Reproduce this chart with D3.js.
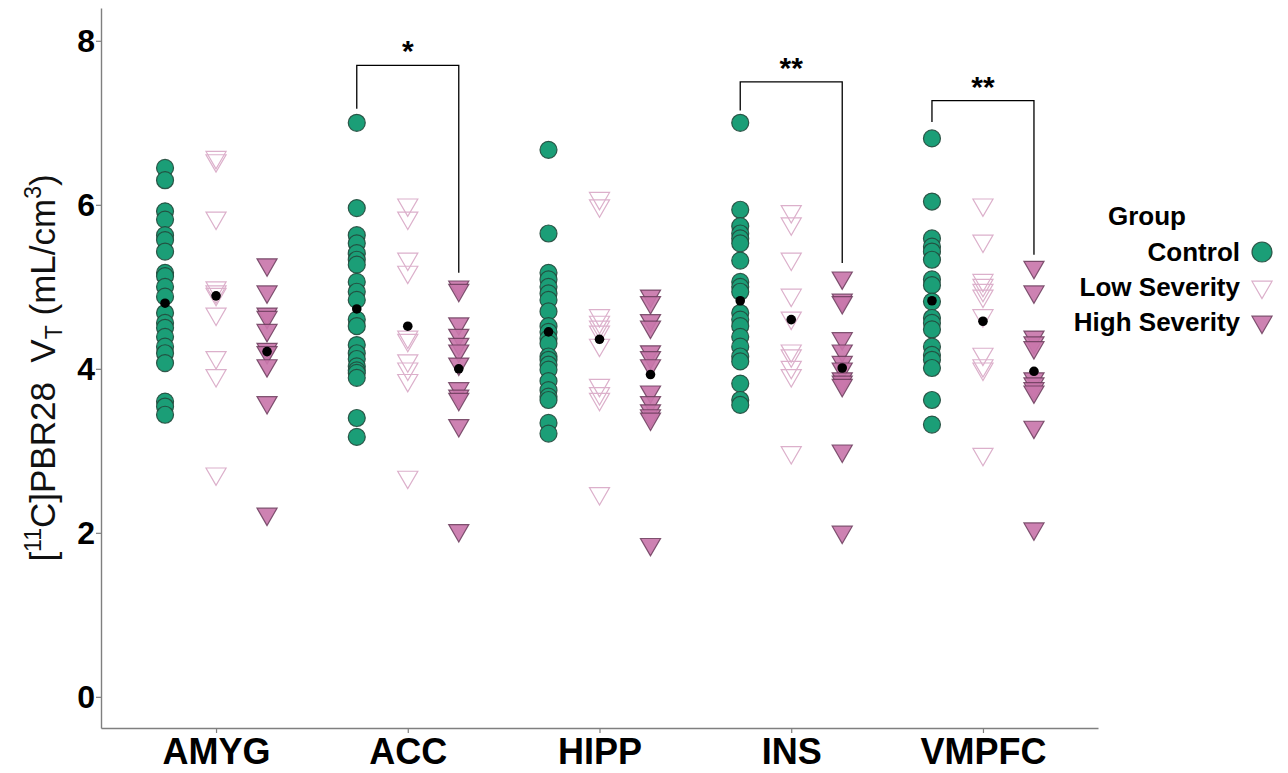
<!DOCTYPE html>
<html>
<head>
<meta charset="utf-8">
<script src="https://cdn.jsdelivr.net/npm/d3@7"></script>
<style>
  html, body { margin: 0; padding: 0; background: #fff; }
  svg { display: block; font-family: "Liberation Sans", Arial, sans-serif; }
</style>
</head>
<body>
<svg id="chart" width="1288" height="773"></svg>
<script>
// ---------- data ----------
const regions = ["AMYG", "ACC", "HIPP", "INS", "VMPFC"];
const groups = ["Control", "Low Severity", "High Severity"];
const yTicks = [0, 2, 4, 6, 8];

const controlValues = [
  [6.45, 6.30, 5.92, 5.82, 5.63, 5.57, 5.43, 5.17, 5.13, 5.00, 4.88, 4.68, 4.56, 4.50, 4.39, 4.27, 4.19, 4.07, 3.60, 3.54, 3.44],
  [7.00, 5.96, 5.63, 5.53, 5.41, 5.33, 5.27, 5.06, 4.94, 4.84, 4.60, 4.52, 4.29, 4.19, 4.12, 4.03, 3.98, 3.95, 3.89, 3.40, 3.17],
  [6.67, 5.65, 5.17, 5.09, 5.00, 4.92, 4.84, 4.70, 4.52, 4.45, 4.37, 4.31, 4.15, 4.11, 4.05, 3.99, 3.85, 3.74, 3.66, 3.62, 3.34, 3.21],
  [7.00, 5.94, 5.74, 5.65, 5.59, 5.53, 5.32, 5.06, 5.00, 4.94, 4.68, 4.60, 4.52, 4.39, 4.27, 4.15, 4.09, 3.82, 3.62, 3.56],
  [6.81, 6.04, 5.59, 5.49, 5.43, 5.33, 5.09, 5.02, 4.82, 4.62, 4.56, 4.48, 4.27, 4.17, 4.11, 4.01, 3.62, 3.32]
];
const lowValues = [
  [6.58, 6.54, 5.84, 4.99, 4.94, 4.91, 4.67, 4.14, 3.92, 2.72],
  [6.00, 5.84, 5.34, 5.18, 4.39, 4.35, 4.10, 4.00, 3.86, 2.68],
  [6.08, 5.99, 4.65, 4.57, 4.51, 4.45, 4.29, 3.80, 3.70, 3.63, 2.48],
  [5.92, 5.77, 5.34, 4.90, 4.62, 4.22, 4.16, 4.02, 3.92, 2.98],
  [6.00, 5.56, 5.08, 5.02, 4.96, 4.89, 4.65, 4.18, 4.04, 4.00, 2.96]
];
const highValues = [
  [5.27, 4.94, 4.67, 4.63, 4.47, 4.24, 4.20, 4.04, 3.59, 2.23],
  [5.00, 4.96, 4.55, 4.41, 4.30, 4.22, 4.06, 3.76, 3.67, 3.63, 3.31, 2.03],
  [4.89, 4.81, 4.59, 4.51, 4.21, 4.14, 4.04, 3.72, 3.59, 3.49, 3.43, 3.39, 1.86],
  [5.11, 4.84, 4.81, 4.37, 4.22, 4.08, 4.00, 3.88, 3.84, 3.80, 3.00, 2.01],
  [5.24, 4.94, 4.39, 4.32, 4.26, 3.88, 3.82, 3.76, 3.72, 3.29, 2.05]
];
const controlMeans = [4.80, 4.73, 4.45, 4.83, 4.83];
const lowMeans = [4.89, 4.52, 4.36, 4.60, 4.58];
const highMeans = [4.21, 4.00, 3.93, 4.01, 3.97];

const sigRegions = ["ACC", "INS", "VMPFC"];
const sigLabels = ["*", "**", "**"];
const sigTop = [7.70, 7.50, 7.27];
const sigLeftEnd = [7.17, 7.15, 7.01];
const sigRightEnd = [5.17, 5.29, 5.39];

// ---------- layout ----------
const svg = d3.select("#chart");
const plot = { left: 101, right: 1098, top: 8, bottom: 728 };

const x = d3.scalePoint().domain(regions).range([plot.left, plot.right]).padding(0.6);
const dodge = d3.scalePoint().domain(groups).range([-51, 51]);
const y = d3.scaleLinear().domain([-0.38, 8.4]).range([plot.bottom, plot.top]);

const style = {
  "Control": { fill: "#1b9e77", stroke: "#24493c", fillOpacity: 1, strokeOpacity: 0.9 },
  "Low Severity": { fill: "none", stroke: "#dcb0cb", fillOpacity: 0, strokeOpacity: 1 },
  "High Severity": { fill: "#c977ab", stroke: "#6b3c5c", fillOpacity: 0.92, strokeOpacity: 0.85 }
};
const circleSym = d3.symbol().type(d3.symbolCircle).size(Math.PI * 8.5 * 8.5);
const triSym = d3.symbol().type(d3.symbolTriangle).size(175);

function drawGroup(values, group) {
  const flat = [];
  values.forEach((arr, i) => arr.forEach(v => flat.push({ region: regions[i], v })));
  const st = style[group];
  svg.append("g").selectAll("path").data(flat).join("path")
    .attr("d", group === "Control" ? circleSym() : triSym())
    .attr("transform", d => `translate(${x(d.region) + dodge(group)},${y(d.v)})` + (group === "Control" ? "" : " rotate(180)"))
    .attr("fill", st.fill)
    .attr("fill-opacity", st.fillOpacity)
    .attr("stroke", st.stroke)
    .attr("stroke-opacity", st.strokeOpacity)
    .attr("stroke-width", 1.2);
}
drawGroup(controlValues, "Control");
drawGroup(lowValues, "Low Severity");
drawGroup(highValues, "High Severity");

// means
const meanSets = [controlMeans, lowMeans, highMeans];
const meanData = [];
meanSets.forEach((m, gi) => m.forEach((v, ri) => meanData.push({ region: regions[ri], group: groups[gi], v })));
svg.append("g").selectAll("circle").data(meanData).join("circle")
  .attr("cx", d => x(d.region) + dodge(d.group))
  .attr("cy", d => y(d.v))
  .attr("r", 4.8)
  .attr("fill", "#000");

// axes
const yAxis = d3.axisLeft(y).tickValues(yTicks).tickSize(5).tickPadding(3).tickSizeOuter(0);
const yg = svg.append("g").attr("transform", `translate(${plot.left},0)`).call(yAxis);
yg.select(".domain").attr("stroke", "#7f7f7f").attr("stroke-width", 1.4);
yg.selectAll(".tick line").attr("stroke", "#7f7f7f").attr("stroke-width", 1.2);
yg.selectAll(".tick text").attr("font-family", "Liberation Sans, Arial, sans-serif")
  .attr("font-size", 32).attr("font-weight", "bold").attr("fill", "#000").attr("x", -6);

const xAxis = d3.axisBottom(x).tickSize(5).tickPadding(8).tickSizeOuter(0);
const xg = svg.append("g").attr("transform", `translate(0,${plot.bottom})`).call(xAxis);
xg.select(".domain").attr("stroke", "#7f7f7f").attr("stroke-width", 1.4);
xg.selectAll(".tick line").attr("stroke", "#7f7f7f").attr("stroke-width", 1.2);
xg.selectAll(".tick text").attr("font-family", "Liberation Sans, Arial, sans-serif")
  .attr("font-size", 36).attr("font-weight", "bold").attr("fill", "#000")
  .attr("y", 36).attr("dy", 0);

// significance brackets
const brk = svg.append("g");
sigRegions.forEach((r, i) => {
  const x1 = x(r) + dodge("Control"), x2 = x(r) + dodge("High Severity");
  brk.append("path")
    .attr("d", `M${x1},${y(sigLeftEnd[i])}V${y(sigTop[i])}H${x2}V${y(sigRightEnd[i])}`)
    .attr("fill", "none").attr("stroke", "#000").attr("stroke-width", 1.3);
  brk.append("text")
    .attr("x", (x1 + x2) / 2).attr("y", y(sigTop[i]) - 4)
    .attr("text-anchor", "middle")
    .attr("font-size", 30).attr("font-weight", "bold")
    .text(sigLabels[i]);
});

// y title
const yt = svg.append("text")
  .attr("transform", `translate(55,368) rotate(-90)`)
  .attr("text-anchor", "middle")
  .attr("font-size", 35)
  .attr("fill", "#111");
yt.append("tspan").text("[");
yt.append("tspan").attr("font-size", 23).attr("dy", -14).text("11");
yt.append("tspan").attr("dy", 14).text("C]PBR28\u00a0\u00a0V");
yt.append("tspan").attr("font-size", 23).attr("dy", 7).text("T");
yt.append("tspan").attr("dy", -7).text(" (mL/cm");
yt.append("tspan").attr("font-size", 23).attr("dy", -14).text("3");
yt.append("tspan").attr("dy", 14).text(")");

// legend
const lg = svg.append("g");
lg.append("text").attr("x", 1108).attr("y", 216).attr("dominant-baseline", "central")
  .attr("font-size", 26).attr("font-weight", "bold").text("Group");
const legendY = [252, 287, 322];
groups.forEach((g, i) => {
  lg.append("text").attr("x", 1240).attr("y", legendY[i]).attr("dominant-baseline", "central")
    .attr("text-anchor", "end").attr("font-size", 26).attr("font-weight", "bold").text(g);
  const st = style[g];
  lg.append("path")
    .attr("d", g === "Control" ? d3.symbol().type(d3.symbolCircle).size(Math.PI * 100)() : triSym())
    .attr("transform", `translate(1262,${legendY[i]})` + (g === "Control" ? "" : " rotate(180)"))
    .attr("fill", st.fill).attr("fill-opacity", st.fillOpacity)
    .attr("stroke", st.stroke).attr("stroke-opacity", st.strokeOpacity).attr("stroke-width", 1.2);
});
</script>
</body>
</html>
